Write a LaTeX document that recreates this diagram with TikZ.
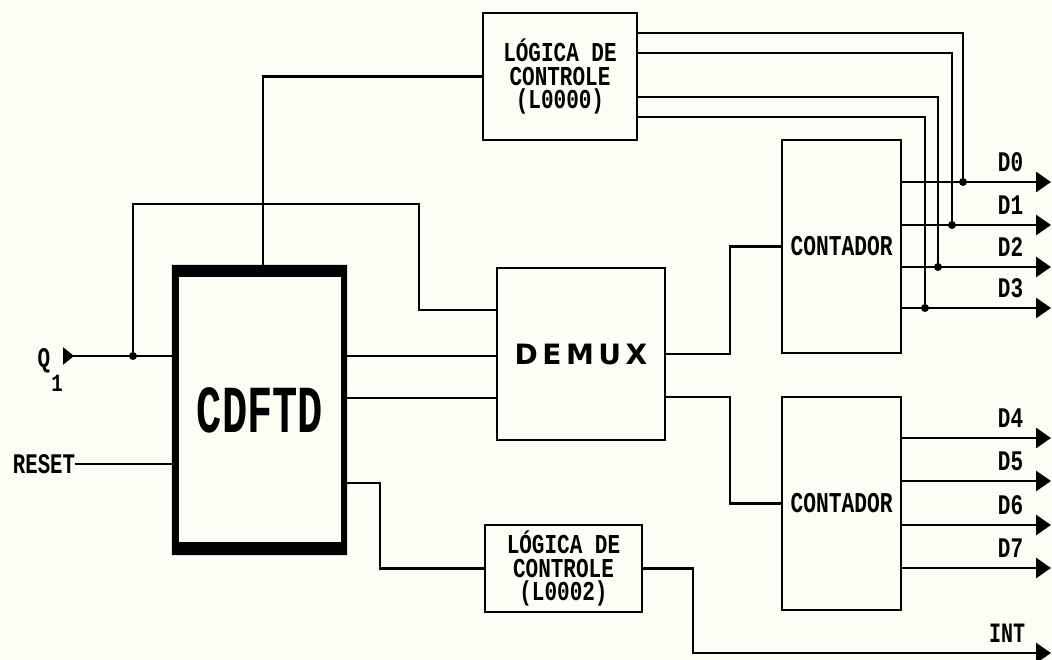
\documentclass[tikz,border=0pt]{standalone}
\usepackage{fontspec}
\usepackage{graphicx}
\usetikzlibrary{arrows.meta}
\newfontfamily\pf{Liberation Mono}
\newfontfamily\df{DejaVu Sans}
\definecolor{paper}{RGB}{254,253,245}
\newcommand\ptx[3]{\scalebox{1}[#2]{\fontsize{#1}{#1}\selectfont\pf\bfseries #3}}
\newcommand\lgc[1]{\scalebox{1}[1.3]{\fontsize{21}{18}\selectfont\pf\bfseries\lineskiplimit=-100pt\lineskip=0pt\vbox{\halign{\hfil##\hfil\cr L\'OGICA DE\cr CONTROLE\cr #1\cr}}}}
\begin{document}
\begin{tikzpicture}[x=1pt,y=-1pt,
  blk/.style={draw,line width=2.8pt,inner sep=0pt,fill=paper},
  wire/.style={line width=2.8pt},
  outarrow/.style={-{Triangle[length=15pt,width=20pt]}},
  inarrow/.style={{Triangle[reversed,length=11pt,width=17pt]}-},
  dot/.style={circle,fill,inner sep=0pt,minimum size=8pt},
  lbl/.style={inner sep=0pt}]
\fill[paper] (0,0) rectangle (1052,660);
\useasboundingbox (0,0) rectangle (1052,660);

% blocks
\node[inner sep=0pt,minimum width=175pt,minimum height=290pt] (cd) at (259.5,410) {};
\fill[even odd rule] (cd.north west) rectangle (cd.south east)
  ([shift={(7,12)}]cd.north west) rectangle ([shift={(-6,-13)}]cd.south east);
\node[lbl] at (260,410) {\ptx{42}{1.6}{CDFTD}};

\node[blk,minimum width=154pt,minimum height=127pt] (l0) at (560,76.5) {\lgc{(L0000)}};
\node[blk,minimum width=157pt,minimum height=87pt] (l2) at (563.5,568.5) {\lgc{(L0002)}};
\node[blk,minimum width=168pt,minimum height=172pt] (dm) at (581,354)
  {\fontsize{28}{28}\selectfont\df\bfseries D\kern4.5pt E\kern4.5pt M\kern4.5pt U\kern4.5pt X};
\node[blk,minimum width=119pt,minimum height=213pt] (c1) at (841.5,246.5) {\ptx{21.25}{1.35}{CONTADOR}};
\node[blk,minimum width=119pt,minimum height=213pt] (c2) at (841.5,503.5) {\ptx{21.25}{1.35}{CONTADOR}};

% inputs
\coordinate (qin) at (63,356);
\coordinate (qj) at (133,356);
\node[lbl] at (44,361) {\ptx{21}{1.35}{Q}};
\node[lbl] at (57,383) {\ptx{19}{1.3}{1}};
\draw[wire,inarrow] (qin) -- (cd.west |- qin);
\node[dot] at (qj) {};
\draw[wire] (qj) |- (419,204) |- (dm.west |- 0,310);

\node[lbl] (rst) at (44,464) {\ptx{20.7}{1.37}{RESET}};
\draw[wire] (rst.east) -- (cd.west |- rst.east);

% CDFTD outputs
\draw[wire] ([xshift=3.5pt]cd.north) |- (l0.west);
\draw[wire] (cd.east |- 0,356) -- (dm.west |- 0,356);
\draw[wire] (cd.east |- 0,398) -- (dm.west |- 0,398);
\draw[wire] (cd.east |- 0,483) -| (380,568.5) -- (l2.west);

% DEMUX outputs
\draw[wire] (dm.east |- 0,354) -| (730,246.5) -- (c1.west);
\draw[wire] (dm.east |- 0,397) -| (730,503.5) -- (c2.west);

% counter outputs
\foreach \y/\n in {182/0,225/1,267/2,308/3}{
  \coordinate (o\n) at (1051,\y);
  \draw[wire,outarrow] (c1.east |- o\n) -- (o\n);
  \node[lbl] at (1010.5,\y-20) {\ptx{21}{1.35}{D\n}};
}
\foreach \y/\n in {438/4,481/5,525/6,568/7}{
  \coordinate (o\n) at (1051,\y);
  \draw[wire,outarrow] (c2.east |- o\n) -- (o\n);
  \node[lbl] at (1010.5,\y-20) {\ptx{21}{1.35}{D\n}};
}

% control logic outputs
\coordinate (j1) at (963,182);
\coordinate (j2) at (952,225);
\coordinate (j3) at (938,267);
\coordinate (j4) at (925,308);
\draw[wire] (l0.east |- 0,33) -| (j1);
\draw[wire] (l0.east |- 0,53) -| (j2);
\draw[wire] (l0.east |- 0,97) -| (j3);
\draw[wire] (l0.east |- 0,117) -| (j4);
\foreach \j in {j1,j2,j3,j4} \node[dot] at (\j) {};

% INT
\coordinate (intout) at (1051,653);
\draw[wire,outarrow] (l2.east) -| (693,653) -- (intout);
\node[lbl] at (1007,633) {\ptx{20}{1.4}{INT}};
\end{tikzpicture}
\end{document}
